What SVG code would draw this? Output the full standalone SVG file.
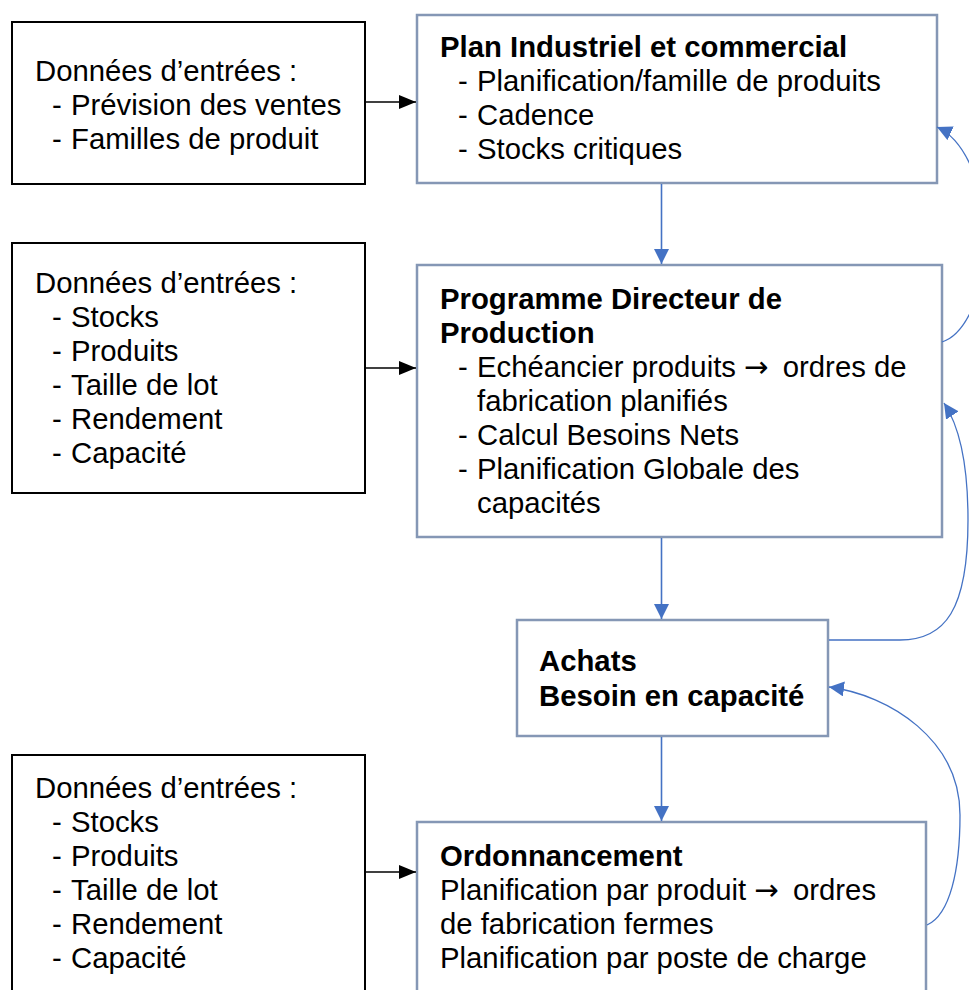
<svg xmlns="http://www.w3.org/2000/svg" width="969" height="990" viewBox="0 0 969 990">
<style>
text{font-family:"Liberation Sans",Arial,sans-serif;font-size:29.3px;fill:#000}
.b{font-weight:bold}
.ar{font-family:"DejaVu Sans",sans-serif}
.in{fill:#fff;stroke:#000;stroke-width:2}
.pr{fill:#fff;stroke:#8597b5;stroke-width:2.5}
.blk{fill:none;stroke:#000;stroke-width:1.3}
.blu{fill:none;stroke:#4472c4;stroke-width:1.6}
.cur{fill:none;stroke:#4472c4;stroke-width:1.3}
</style>
<defs>
<marker id="ab" markerUnits="userSpaceOnUse" markerWidth="17" markerHeight="14" refX="17" refY="7" orient="auto"><path d="M0,0 L17,7 L0,14 z" fill="#000"/></marker>
<marker id="au" markerUnits="userSpaceOnUse" markerWidth="15" markerHeight="15" refX="15" refY="7.5" orient="auto"><path d="M0,0 L15,7.5 L0,15 z" fill="#4472c4"/></marker>
</defs>
<g id="in1"><rect class="in" x="12" y="22" width="353" height="162"/>
<text x="35" y="81">Données d’entrées :</text>
<text x="52" y="115">-</text><text x="71" y="115">Prévision des ventes</text>
<text x="52" y="149">-</text><text x="71" y="149">Familles de produit</text></g>
<g id="in2"><rect class="in" x="12" y="243" width="353" height="250"/>
<text x="35" y="293">Données d’entrées :</text>
<text x="52" y="327">-</text><text x="71" y="327">Stocks</text>
<text x="52" y="361">-</text><text x="71" y="361">Produits</text>
<text x="52" y="395">-</text><text x="71" y="395">Taille de lot</text>
<text x="52" y="429">-</text><text x="71" y="429">Rendement</text>
<text x="52" y="463">-</text><text x="71" y="463">Capacité</text></g>
<g id="in3"><rect class="in" x="12" y="755" width="353" height="260"/>
<text x="35" y="798">Données d’entrées :</text>
<text x="52" y="832">-</text><text x="71" y="832">Stocks</text>
<text x="52" y="866">-</text><text x="71" y="866">Produits</text>
<text x="52" y="900">-</text><text x="71" y="900">Taille de lot</text>
<text x="52" y="934">-</text><text x="71" y="934">Rendement</text>
<text x="52" y="968">-</text><text x="71" y="968">Capacité</text></g>
<g id="pic"><rect class="pr" x="417" y="15" width="520" height="168"/>
<text class="b" x="440" y="57">Plan Industriel et commercial</text>
<text x="458" y="91">-</text><text x="477" y="91">Planification/famille de produits</text>
<text x="458" y="125">-</text><text x="477" y="125">Cadence</text>
<text x="458" y="159">-</text><text x="477" y="159">Stocks critiques</text></g>
<g id="pdp"><rect class="pr" x="417" y="265" width="525" height="272"/>
<text class="b" x="440" y="309">Programme Directeur de</text>
<text class="b" x="440" y="343">Production</text>
<text x="458" y="377">-</text><text x="477" y="377">Echéancier produits <tspan class="ar">→</tspan><tspan dx="6"> ordres de</tspan></text>
<text x="477" y="411">fabrication planifiés</text>
<text x="458" y="445">-</text><text x="477" y="445">Calcul Besoins Nets</text>
<text x="458" y="479">-</text><text x="477" y="479">Planification Globale des</text>
<text x="477" y="513">capacités</text></g>
<g id="achats"><rect class="pr" x="517" y="620" width="311" height="116"/>
<text class="b" x="539" y="671">Achats</text>
<text class="b" x="539" y="706">Besoin en capacité</text></g>
<g id="ordo"><rect class="pr" x="417" y="822" width="509" height="200"/>
<text class="b" x="440" y="866">Ordonnancement</text>
<text x="440" y="900">Planification par produit <tspan class="ar">→</tspan><tspan dx="6"> ordres</tspan></text>
<text x="440" y="934">de fabrication fermes</text>
<text x="440" y="968">Planification par poste de charge</text></g>
<g id="connectors">
<path class="blk" d="M365,102 H416" marker-end="url(#ab)"/>
<path class="blk" d="M365,368 H416" marker-end="url(#ab)"/>
<path class="blk" d="M365,872 H416" marker-end="url(#ab)"/>
<path class="blu" d="M661.5,184 V264" marker-end="url(#au)"/>
<path class="blu" d="M661.5,538 V619" marker-end="url(#au)"/>
<path class="blu" d="M661.5,737 V821" marker-end="url(#au)"/>
<path class="cur" d="M942,342 C962,336 985,300 985,240 C985,185 965,140 937,127" marker-end="url(#au)"/>
<path class="cur" d="M829,640 L900,640 C945,640 968,610 968,520 C968,470 962,430 944,403" marker-end="url(#au)"/>
<path class="cur" d="M927,925 C950,915 960,870 960,815 C960,740 890,695 829,687" marker-end="url(#au)"/>
</g>
</svg>
